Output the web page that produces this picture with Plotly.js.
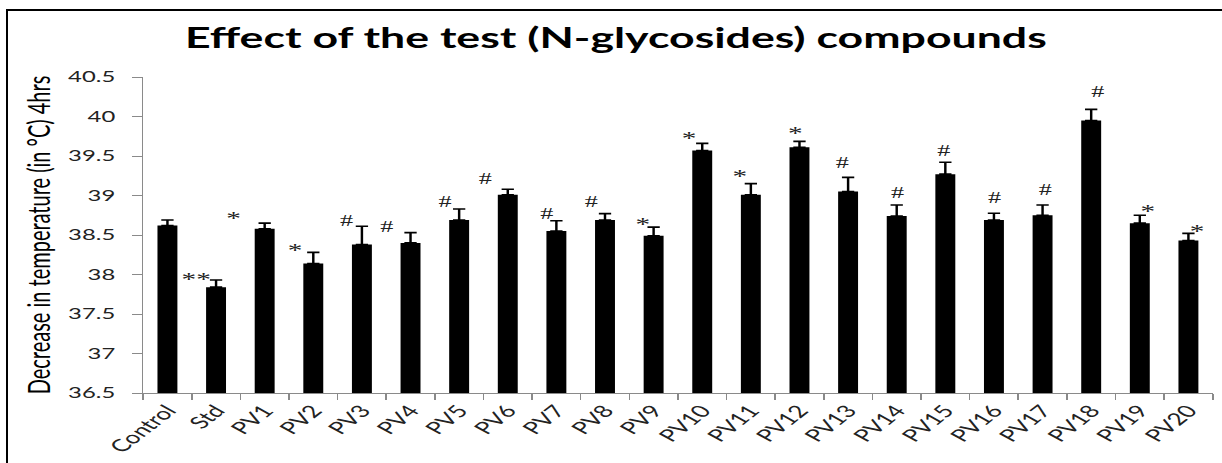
<!DOCTYPE html>
<html>
<head>
<meta charset="utf-8">
<script src="https://cdn.plot.ly/plotly-3.0.1.min.js"></script>
<style>
  html, body { margin: 0; padding: 0; background: #fff; overflow: hidden; width: 1222px; height: 463px; }
  #frame { position: absolute; left: 6px; top: 9px; width: 1400px; height: 600px;
           border-top: 2.5px solid #000; border-left: 2.5px solid #000; pointer-events: none; }
  #chart { position: absolute; left: 0; top: 0; width: 794px; height: 463px;
           transform: scaleX(1.539); transform-origin: 0 0; -webkit-font-smoothing: antialiased; }
</style>
</head>
<body>
<div id="chart"></div>
<div id="frame"></div>
<script>
// ---- data ----
const categories = ['Control', 'Std', 'PV1', 'PV2', 'PV3', 'PV4', 'PV5', 'PV6', 'PV7', 'PV8', 'PV9', 'PV10',
                    'PV11', 'PV12', 'PV13', 'PV14', 'PV15', 'PV16', 'PV17', 'PV18', 'PV19', 'PV20'];
const means = [38.62, 37.84, 38.58, 38.14, 38.38, 38.40, 38.69, 39.01, 38.55, 38.69, 38.49, 39.57,
               39.01, 39.61, 39.05, 38.74, 39.27, 38.69, 38.75, 39.95, 38.65, 38.43];
const errors = [0.07, 0.09, 0.07, 0.14, 0.23, 0.13, 0.14, 0.07, 0.13, 0.08, 0.11, 0.09,
                0.14, 0.075, 0.18, 0.14, 0.15, 0.085, 0.13, 0.14, 0.10, 0.09];
const marks = ['', '**', '*', '*', '#', '#', '#', '#', '#', '#', '*', '*',
               '*', '*', '#', '#', '#', '#', '#', '#', '*', '*'];
const markLevels = [null, 38.0, 38.77, 38.37, 38.68, 38.61, 38.93, 39.22, 38.77, 38.92, 38.69, 39.78,
                    39.30, 39.85, 39.42, 39.04, 39.57, 38.98, 39.07, 40.32, 38.86, 38.61];
const yTicks = [36.5, 37, 37.5, 38, 38.5, 39, 39.5, 40, 40.5];
const axisMin = 36.5;
const titleText = 'Effect of the test (N-glycosides) compounds';
const yTitleText = 'Decrease in temperature (in °C) 4hrs';

// ---- layout-only offsets for the significance marks (px) ----
const markOffsets = [0, -12.7, -20, -12, -9.3, -15, -9, -14, -6.5, -9, -7, -8,
                     -7, -2.3, -3.4, 0.7, -1.2, 0.7, 1.6, 4.2, 4.9, 5.7];

const zeros = means.map(() => 0);

const trace = {
  type: 'bar',
  x: categories,
  y: means.map(v => v - axisMin),
  base: axisMin,
  marker: { color: '#000000' },
  error_y: { type: 'data', array: errors, arrayminus: zeros, symmetric: false,
             color: '#000000', thickness: 1.6, width: 4 },
  hoverinfo: 'x+y'
};

const annotations = [];
categories.forEach((c, i) => {
  if (!marks[i]) return;
  const isStar = marks[i].indexOf('*') >= 0;
  annotations.push({
    x: c, y: markLevels[i], xref: 'x', yref: 'y',
    text: marks[i], showarrow: false,
    xanchor: 'center', yanchor: 'middle',
    xshift: markOffsets[i], yshift: isStar ? -5 : 0,
    font: { family: 'Liberation Serif, serif', size: isStar ? 19 : 17, color: '#222222' }
  });
});

const layout = {
  width: 794, height: 463, autosize: false,
  margin: { l: 92.7, r: 6.3, t: 77.3, b: 69.5, pad: 0 },
  paper_bgcolor: '#ffffff', plot_bgcolor: '#ffffff',
  showlegend: false,
  bargap: 0.59,
  title: { text: titleText, x: 0.504, xanchor: 'center', xref: 'container',
           y: 0.918, yanchor: 'middle', yref: 'container',
           font: { family: 'Lato, sans-serif', size: 29, weight: 700, color: '#000000' } },
  xaxis: {
    type: 'category', tickangle: -50, tickson: 'boundaries',
    ticks: 'outside', ticklen: 6, tickcolor: '#8a8a8a', tickwidth: 1,
    showline: true, linecolor: '#8a8a8a', linewidth: 1,
    showgrid: false, zeroline: false,
    tickfont: { family: 'Lato, sans-serif', size: 17, color: '#222222' }
  },
  yaxis: {
    range: [36.5, 40.5], tickvals: yTicks, ticktext: yTicks.map(String),
    ticks: 'outside', ticklen: 6, tickcolor: '#8a8a8a', tickwidth: 1,
    ticklabelstandoff: 8,
    showline: true, linecolor: '#8a8a8a', linewidth: 1,
    showgrid: false, zeroline: false,
    tickfont: { family: 'Lato, sans-serif', size: 15.5, color: '#222222' },
    title: { text: yTitleText, standoff: 5,
             font: { family: 'Lato, sans-serif', size: 20, color: '#000000' } }
  },
  annotations: annotations
};

Plotly.newPlot('chart', [trace], layout, { displayModeBar: false, staticPlot: true });
</script>
</body>
</html>
